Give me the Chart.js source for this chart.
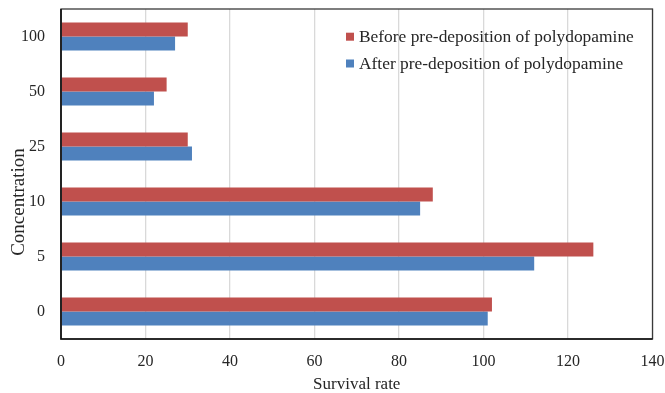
<!DOCTYPE html>
<html>
<head>
<meta charset="utf-8">
<script src="https://cdn.jsdelivr.net/npm/chart.js@4/dist/chart.umd.min.js"></script>
<style>
  html, body { margin: 0; padding: 0; background: #fff; }
  #wrap { width: 665px; height: 393px; }
</style>
</head>
<body>
<div id="wrap"><canvas id="c" width="665" height="393"></canvas></div>
<script>
// Concentration groups, top to bottom
const concentrations = ['100', '50', '25', '10', '5', '0'];
// Survival rate per concentration
const beforeValues = [30, 25, 30, 88, 126, 102];
const afterValues  = [27, 22, 31, 85, 112, 101];
const seriesNames = ['Before pre-deposition of polydopamine', 'After pre-deposition of polydopamine'];
const xTicks = [0, 20, 40, 60, 80, 100, 120, 140];
const xTitle = 'Survival rate';
const yTitle = 'Concentration';

const FONT = "'Liberation Serif', 'Times New Roman', serif";
const TEXT = '#262626';
const RED = '#C0504D';
const BLUE = '#4F81BD';

// Frame around the plot area
const framePlugin = {
  id: 'frame',
  afterDatasetsDraw(chart) {
    const { ctx, chartArea: a } = chart;
    ctx.save();
    ctx.strokeStyle = '#3a3a3a';
    ctx.lineWidth = 1.3;
    ctx.strokeRect(a.left, a.top, a.right - a.left, a.bottom - a.top);
    ctx.strokeStyle = '#111';
    ctx.lineWidth = 1.6;
    ctx.beginPath();
    ctx.moveTo(a.left, a.top);
    ctx.lineTo(a.left, a.bottom);
    ctx.lineTo(a.right, a.bottom);
    ctx.stroke();
    ctx.restore();
  }
};

// Legend drawn inside the plot area, upper right
const insideLegend = {
  id: 'insideLegend',
  afterDraw(chart) {
    const { ctx, chartArea: a } = chart;
    ctx.save();
    ctx.font = '17.4px ' + FONT;
    ctx.textBaseline = 'middle';
    ctx.textAlign = 'left';
    const x0 = a.left + 285;
    const rows = [a.top + 27.7, a.top + 54.5];
    chart.data.datasets.forEach((ds, i) => {
      const y = rows[i];
      ctx.fillStyle = ds.backgroundColor;
      ctx.fillRect(x0, y - 4, 8, 8);
      ctx.fillStyle = TEXT;
      ctx.fillText(ds.label, x0 + 13, y + 1);
    });
    ctx.restore();
  }
};

// Vertical axis title, set a little below the plot's middle
const yTitlePlugin = {
  id: 'yTitle',
  afterDraw(chart) {
    const { ctx } = chart;
    ctx.save();
    ctx.translate(24, 202);
    ctx.rotate(-Math.PI / 2);
    ctx.font = '19px ' + FONT;
    ctx.fillStyle = TEXT;
    ctx.textAlign = 'center';
    ctx.textBaseline = 'alphabetic';
    ctx.fillText(yTitle, 0, 0);
    ctx.restore();
  }
};

new Chart(document.getElementById('c'), {
  type: 'bar',
  data: {
    labels: concentrations,
    datasets: [
      { label: seriesNames[0], data: beforeValues, backgroundColor: RED },
      { label: seriesNames[1], data: afterValues, backgroundColor: BLUE }
    ]
  },
  options: {
    indexAxis: 'y',
    responsive: false,
    animation: false,
    devicePixelRatio: 1,
    layout: { padding: { left: 0, right: 12.5, top: 9, bottom: 0 } },
    datasets: { bar: { categoryPercentage: 0.51, barPercentage: 1.0 } },
    plugins: {
      legend: { display: false },
      tooltip: { enabled: false }
    },
    scales: {
      x: {
        min: 0,
        max: 140,
        afterBuildTicks(scale) { scale.ticks = xTicks.map(v => ({ value: v })); },
        grid: { color: '#d9d9d9', lineWidth: 1.3, drawTicks: false },
        border: { display: false },
        ticks: { font: { family: FONT, size: 16 }, color: TEXT, padding: 13 },
        title: { display: true, text: xTitle, font: { family: FONT, size: 17, lineHeight: 1.0 }, color: TEXT, padding: { top: 2, bottom: 0 } },
        afterFit(scale) {
          scale.height = 54;
          scale.paddingLeft = 0;
          scale.paddingRight = 0;
        }
      },
      y: {
        grid: { display: false, drawTicks: false },
        border: { display: false },
        ticks: { font: { family: FONT, size: 16 }, color: TEXT, padding: 16 },
        afterFit(scale) {
          scale.width = 61;
          scale.paddingTop = 0;
          scale.paddingBottom = 0;
        }
      }
    }
  },
  plugins: [framePlugin, insideLegend, yTitlePlugin]
});
</script>
</body>
</html>
